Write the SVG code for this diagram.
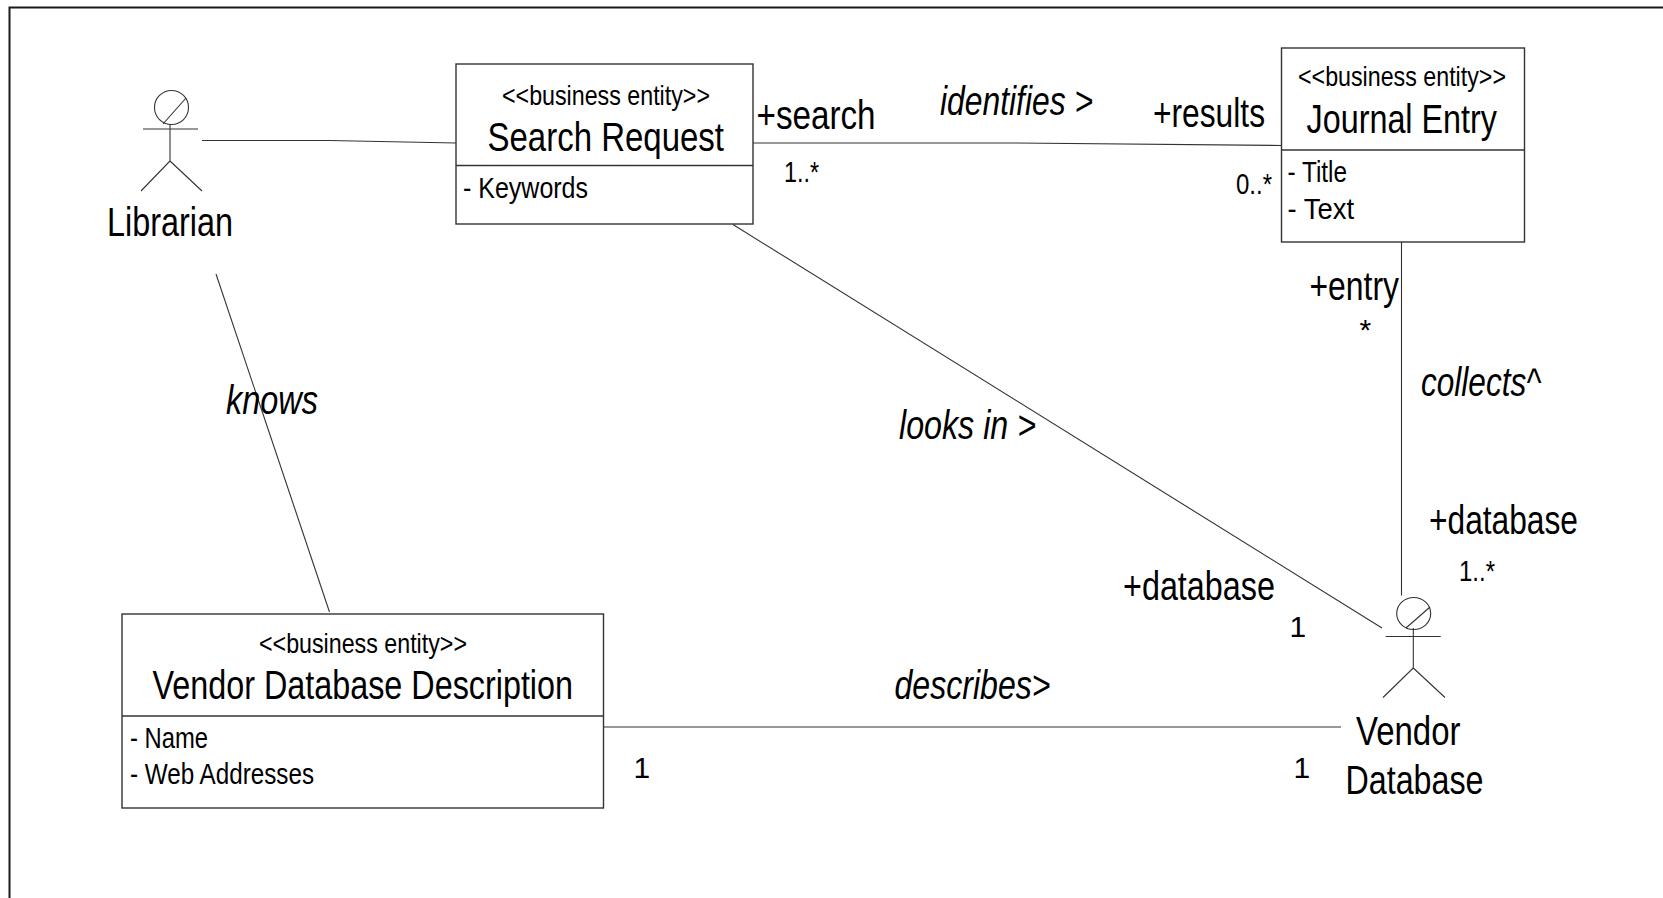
<svg xmlns="http://www.w3.org/2000/svg" width="1663" height="898" viewBox="0 0 1663 898">
<style>
text{font-family:"Liberation Sans",Arial,sans-serif;fill:#000;stroke:none}
.box{fill:#fff;stroke:#333;stroke-width:1.4}
.ln{fill:none;stroke:#333;stroke-width:1.1}
.st{font-size:28px}
.nm{font-size:40px}
.at{font-size:30px}
.it{font-size:40px;font-style:italic}
.lb{font-size:40px}
.mu{font-size:30px}
</style>
<rect width="1663" height="898" fill="#fff"/>
<path d="M9.5 898V7.500H1663" fill="none" stroke="#1a1a1a" stroke-width="2"/>
<g id="connectors">
<path class="ln" d="M202 140.500H329L456 143"/>
<path class="ln" d="M752.500 143H1016L1281.700 145.500"/>
<path class="ln" d="M733 224.500L1382 628"/>
<path class="ln" d="M1401.500 242V595.500"/>
<path class="ln" d="M216 274L329.500 612"/>
<path class="ln" d="M603.500 727H1341"/>
</g>
<g id="labels">
<text class="lb" x="756.500" y="128.500" textLength="119" lengthAdjust="spacingAndGlyphs">+search</text>
<text class="mu" x="784" y="182" textLength="35" lengthAdjust="spacingAndGlyphs">1..*</text>
<text class="it" x="940" y="115" textLength="153" lengthAdjust="spacingAndGlyphs">identifies &gt;</text>
<text class="lb" x="1153" y="127" textLength="112" lengthAdjust="spacingAndGlyphs">+results</text>
<text class="mu" x="1236" y="194" textLength="36" lengthAdjust="spacingAndGlyphs">0..*</text>
<text class="lb" x="1309.500" y="299.500" textLength="89.500" lengthAdjust="spacingAndGlyphs">+entry</text>
<text class="mu" x="1359.500" y="340">*</text>
<text class="it" x="1421" y="396" textLength="120" lengthAdjust="spacingAndGlyphs">collects^</text>
<text class="lb" x="1429" y="534" textLength="149" lengthAdjust="spacingAndGlyphs">+database</text>
<text class="mu" x="1459" y="581" textLength="36" lengthAdjust="spacingAndGlyphs">1..*</text>
<text class="it" x="899" y="439" textLength="137" lengthAdjust="spacingAndGlyphs">looks in &gt;</text>
<text class="lb" x="1123" y="599.500" textLength="152" lengthAdjust="spacingAndGlyphs">+database</text>
<text class="mu" x="1289.500" y="637">1</text>
<text class="it" x="226" y="414" textLength="92" lengthAdjust="spacingAndGlyphs">knows</text>
<text class="it" x="894.500" y="698.500" textLength="156" lengthAdjust="spacingAndGlyphs">describes&gt;</text>
<text class="mu" x="633.500" y="778">1</text>
<text class="mu" x="1293.500" y="778">1</text>
</g>
<g id="librarian">
<ellipse class="ln" cx="171.500" cy="107.500" rx="17" ry="17"/>
<path class="ln" d="M163 124L186 98M143 129H198M170 124V161L141 191M170 161L202 191"/>
<text class="lb" x="107" y="236" textLength="126" lengthAdjust="spacingAndGlyphs">Librarian</text>
</g>
<g id="search-request">
<rect class="box" x="456" y="64" width="297" height="160"/>
<path class="box" d="M456 165.500H753"/>
<text class="st" x="502" y="105" textLength="208" lengthAdjust="spacingAndGlyphs">&lt;&lt;business entity&gt;&gt;</text>
<text class="nm" x="487.500" y="151" textLength="236.500" lengthAdjust="spacingAndGlyphs">Search Request</text>
<text class="at" x="463" y="198" textLength="125" lengthAdjust="spacingAndGlyphs">- Keywords</text>
</g>
<g id="journal-entry">
<rect class="box" x="1281.500" y="48" width="243" height="194"/>
<path class="box" d="M1281.500 150H1524.500"/>
<text class="st" x="1298" y="86" textLength="208" lengthAdjust="spacingAndGlyphs">&lt;&lt;business entity&gt;&gt;</text>
<text class="nm" x="1306.500" y="132.500" textLength="190.500" lengthAdjust="spacingAndGlyphs">Journal Entry</text>
<text class="at" x="1287.500" y="182" textLength="59.500" lengthAdjust="spacingAndGlyphs">- Title</text>
<text class="at" x="1287.500" y="219" textLength="66.500" lengthAdjust="spacingAndGlyphs">- Text</text>
</g>
<g id="vendor-database">
<ellipse class="ln" cx="1413.700" cy="613.500" rx="17" ry="16"/>
<path class="ln" d="M1406 628L1430 607M1385.700 636.500H1440.700M1413.300 628V668L1383 697.500M1413.300 668L1445 697.500"/>
<text class="lb" x="1356" y="744.500" textLength="104.500" lengthAdjust="spacingAndGlyphs">Vendor</text>
<text class="lb" x="1345.500" y="793.500" textLength="138" lengthAdjust="spacingAndGlyphs">Database</text>
</g>
<g id="vendor-database-description">
<rect class="box" x="122" y="614" width="481.500" height="194"/>
<path class="box" d="M122 716H603.500"/>
<text class="st" x="259" y="653" textLength="208" lengthAdjust="spacingAndGlyphs">&lt;&lt;business entity&gt;&gt;</text>
<text class="nm" x="152.500" y="698.500" textLength="420.500" lengthAdjust="spacingAndGlyphs">Vendor Database Description</text>
<text class="at" x="130" y="748" textLength="78" lengthAdjust="spacingAndGlyphs">- Name</text>
<text class="at" x="130" y="784" textLength="184" lengthAdjust="spacingAndGlyphs">- Web Addresses</text>
</g>
</svg>
